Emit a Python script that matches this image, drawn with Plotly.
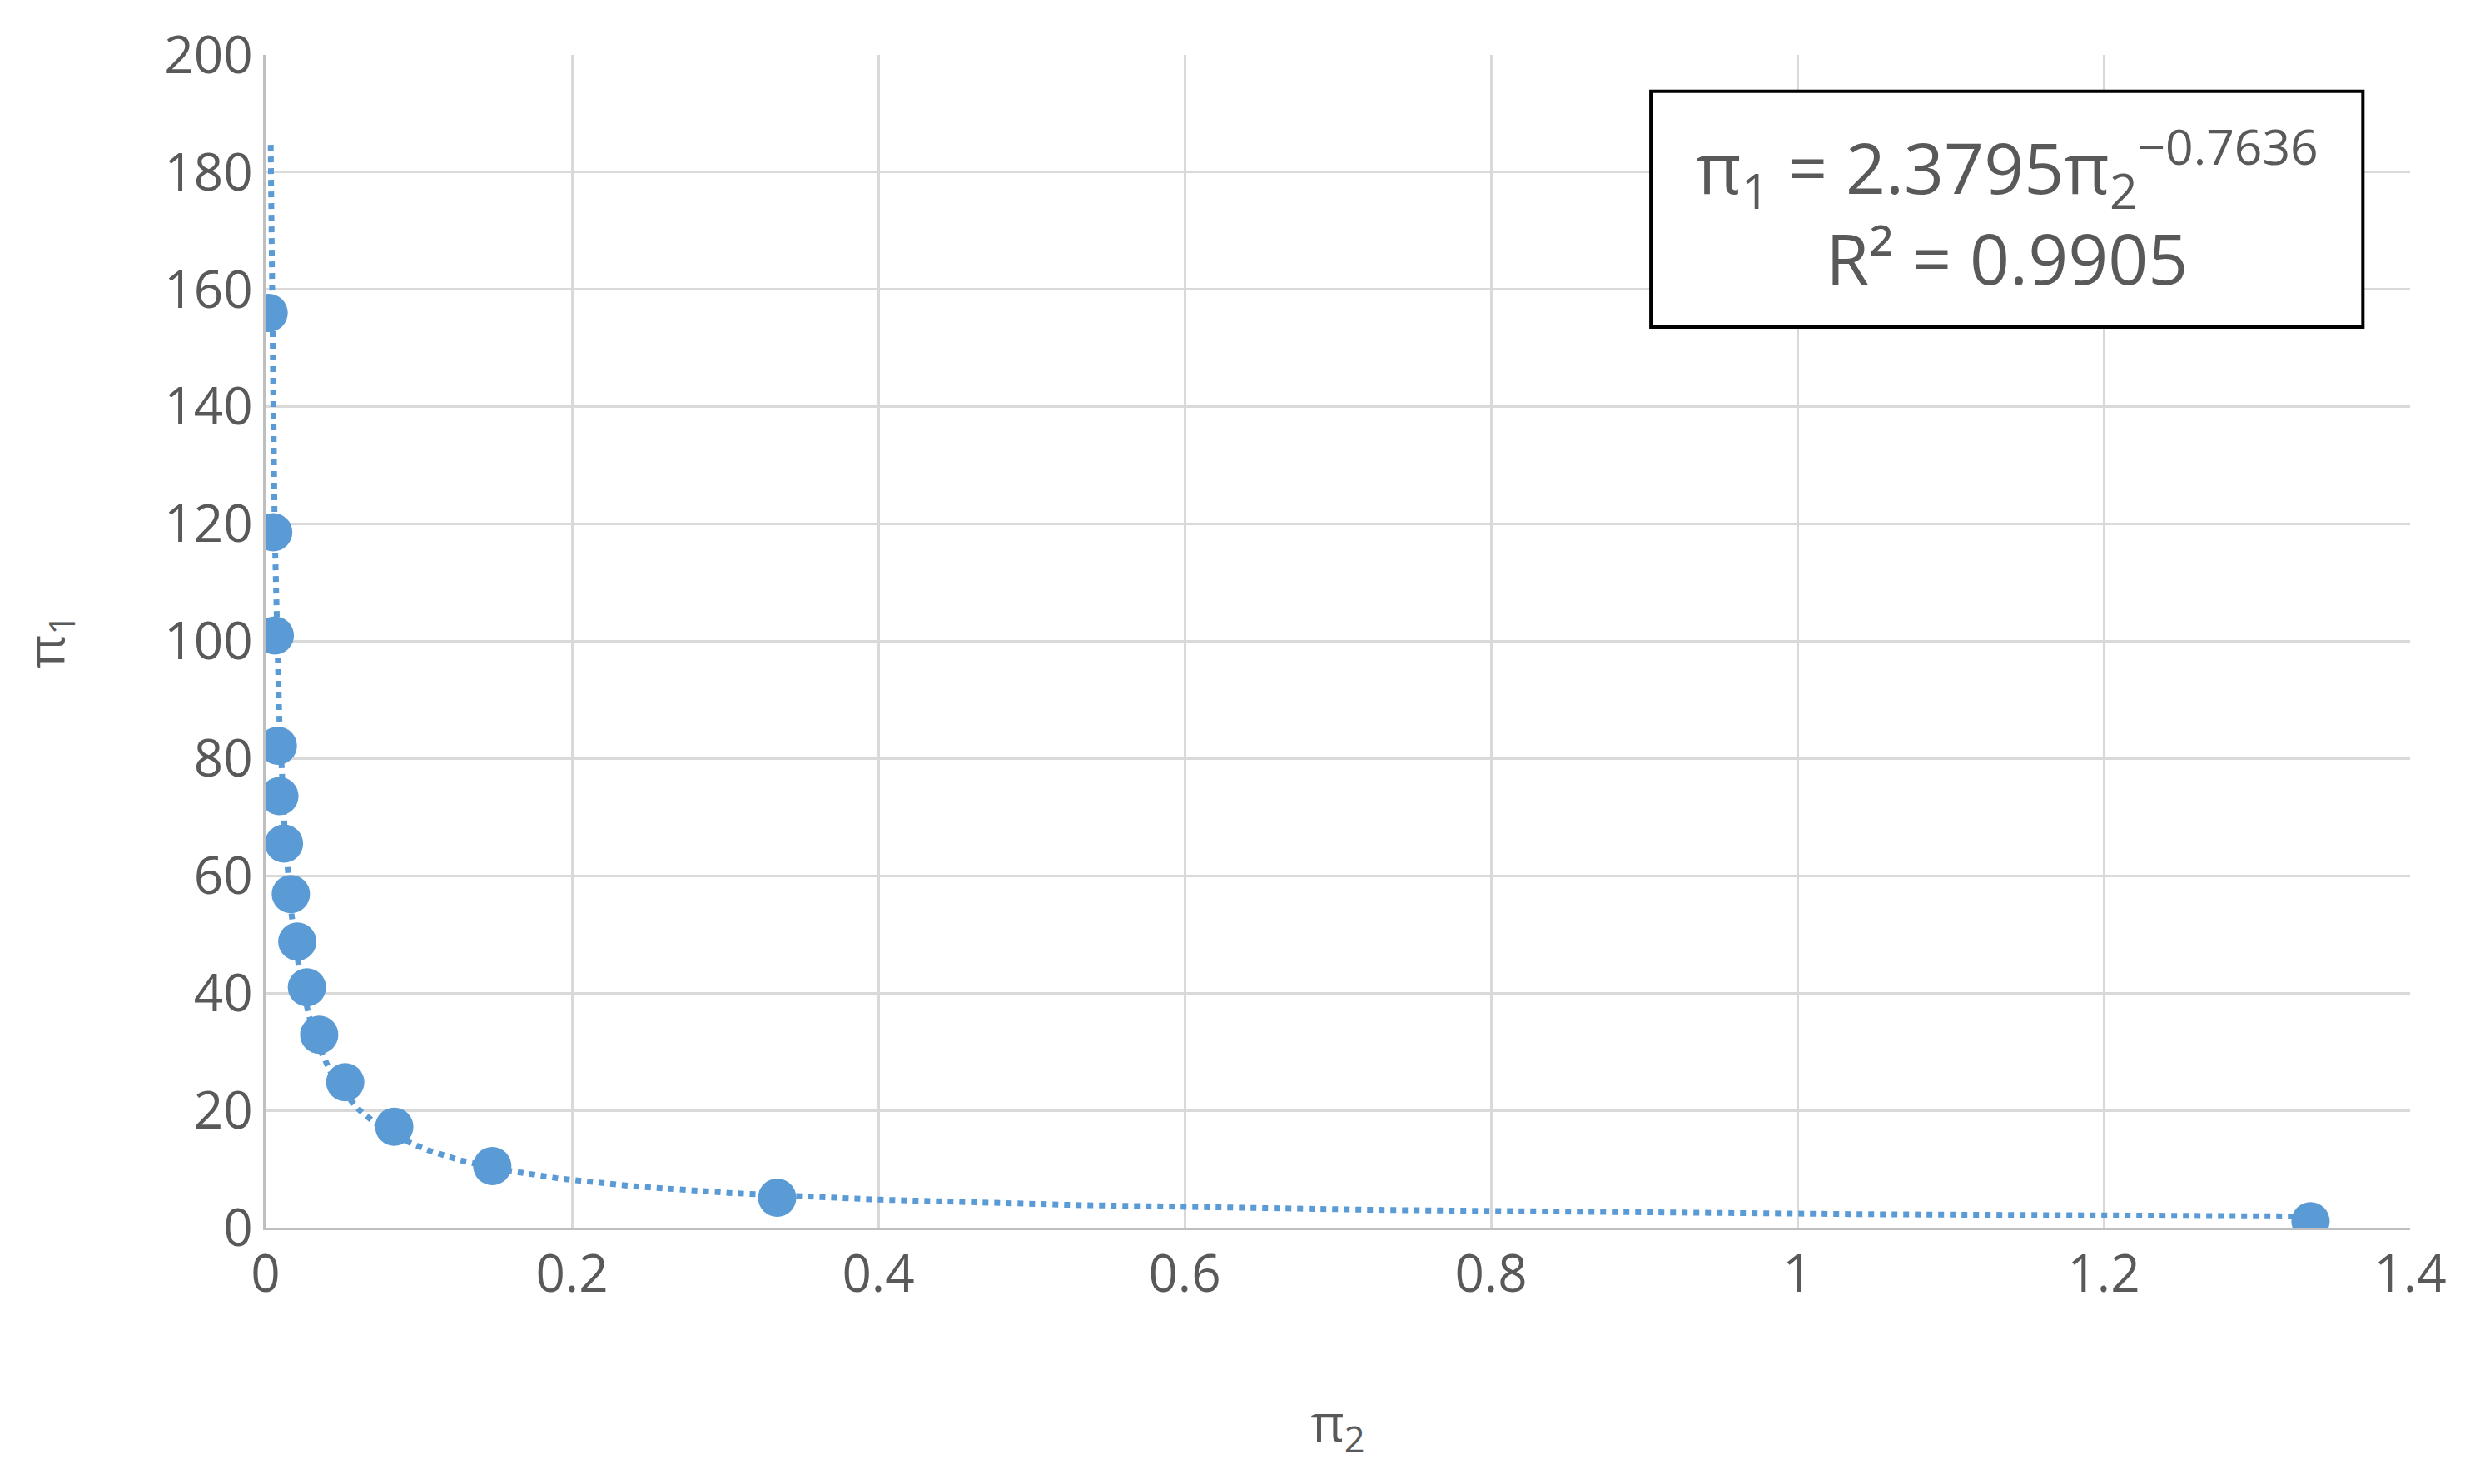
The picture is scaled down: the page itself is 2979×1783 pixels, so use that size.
import numpy as np
import plotly.graph_objects as go

pi2 = [0.002, 0.005, 0.006, 0.008, 0.009, 0.012, 0.0165, 0.0207, 0.027, 0.035, 0.052, 0.084, 0.148, 0.334, 1.335]
pi1 = [156, 118.6, 101, 82.2, 73.6, 65.5, 56.9, 48.8, 41, 32.9, 24.8, 17.2, 10.5, 5.1, 1.1]
coef_a, coef_b = 2.3795, -0.7636

xt = np.geomspace(0.00335, 1.335, 400)
yt = coef_a * xt ** coef_b

c = "#5B9BD5"
fig = go.Figure()
fig.add_trace(go.Scatter(x=xt, y=yt, mode="lines", line=dict(color=c, width=7, dash="dot"), hoverinfo="skip"))
fig.add_trace(go.Scatter(x=pi2, y=pi1, mode="markers", marker=dict(color=c, size=46)))

tf = dict(family="Open Sans, Liberation Sans, sans-serif", size=62, color="#595959")
ax = dict(showgrid=True, gridcolor="#D9D9D9", gridwidth=3, zeroline=False, showline=True,
          linecolor="#BFBFBF", linewidth=3, tickfont=tf, ticks="")
fig.update_layout(
    width=2979, height=1783, plot_bgcolor="white", paper_bgcolor="white", showlegend=False,
    margin=dict(l=311, r=92, t=58, b=316),
    xaxis=dict(ax, range=[0, 1.4], dtick=0.2, tickformat="~g",
               title=dict(text="π<sub>2</sub>", font=tf, standoff=120)),
    yaxis=dict(ax, range=[0, 200], dtick=20,
               title=dict(text="π<sub>1</sub>", font=tf, standoff=100)),
)
fig.add_shape(type="rect", xref="paper", yref="paper", x0=0.646, x1=0.978, y0=0.768, y1=0.969,
              line=dict(color="black", width=4), fillcolor="white", layer="above")
fig.add_annotation(xref="paper", yref="paper", x=0.812, y=0.8685, xanchor="center", yanchor="middle",
                   showarrow=False,
                   text="π<sub>1</sub> = 2.3795π<sub>2</sub><sup>−0.7636</sup><br>R² = 0.9905",
                   font=dict(family="Open Sans, Liberation Sans, sans-serif", size=84, color="#595959"),
                   align="center")
fig.write_html("out.html")
